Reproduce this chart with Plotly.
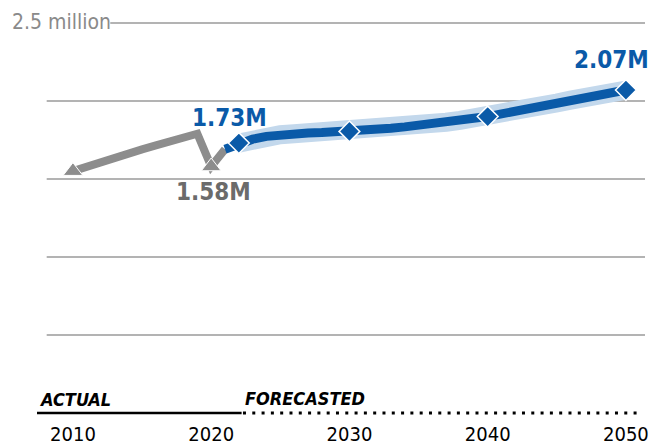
import plotly.graph_objects as go

# Population (millions), actual and forecast
actual_years = list(range(2010, 2022))
actual_vals = [1.55, 1.58, 1.61, 1.64, 1.665, 1.69, 1.715, 1.74, 1.765, 1.79, 1.58, 1.69]

fc_years = list(range(2021, 2051))
fc_vals = [1.69, 1.73, 1.755, 1.773, 1.784, 1.79, 1.795, 1.798, 1.801, 1.805,
           1.81, 1.817, 1.825, 1.834, 1.843, 1.853, 1.864, 1.876, 1.888, 1.90,
           1.917, 1.934, 1.951, 1.969, 1.987, 2.005, 2.022, 2.04, 2.056, 2.07]

actual_marker_years = [2010, 2020]
actual_marker_vals = [1.55, 1.58]
fc_marker_years = [2022, 2030, 2040, 2050]
fc_marker_vals = [1.73, 1.805, 1.90, 2.07]

grid_vals = [0.5, 1.0, 1.5, 2.0]
top_val = 2.5
tick_years = [2010, 2020, 2030, 2040, 2050]

FONT = "Liberation Sans Narrow, DejaVu Sans Condensed, Arial Narrow, sans-serif"
BLUE = "#0a5aa8"
HALO = "#c3d8ec"
GRAY = "#8d8d8d"

fig = go.Figure()

# horizontal guide lines
for v in grid_vals:
    fig.add_shape(type="line", x0=2008.1, x1=2051.4, y0=v, y1=v,
                  line=dict(color="#9a9a9a", width=1.5), layer="below")
fig.add_shape(type="line", x0=2012.7, x1=2051.4, y0=top_val, y1=top_val,
              line=dict(color="#9a9a9a", width=1.5), layer="below")

# baseline: solid for actual, dotted for forecast
fig.add_trace(go.Scatter(x=[2007.4, 2022.2], y=[0, 0], mode="lines",
                         line=dict(color="black", width=2.5), hoverinfo="skip"))
fig.add_trace(go.Scatter(x=[2022.3, 2051.0], y=[0, 0], mode="lines",
                         line=dict(color="black", width=3, dash="3px,6.3px"),
                         hoverinfo="skip"))

# actual series
fig.add_trace(go.Scatter(x=actual_years, y=actual_vals, mode="lines",
                         line=dict(color=GRAY, width=8), hoverinfo="skip"))
fig.add_trace(go.Scatter(x=actual_marker_years, y=actual_marker_vals, mode="markers",
                         marker=dict(symbol="triangle-up", size=17, color=GRAY,
                                     line=dict(color="white", width=1)),
                         hoverinfo="skip"))

# forecast series with halo
fig.add_trace(go.Scatter(x=fc_years[1:], y=fc_vals[1:], mode="lines",
                         line=dict(color=HALO, width=19), hoverinfo="skip"))
fig.add_trace(go.Scatter(x=fc_years, y=fc_vals, mode="lines",
                         line=dict(color=BLUE, width=9), hoverinfo="skip"))
fig.add_trace(go.Scatter(x=fc_marker_years, y=fc_marker_vals, mode="markers",
                         marker=dict(symbol="diamond", size=16, color=BLUE,
                                     line=dict(color="white", width=1.5)),
                         hoverinfo="skip"))

# value labels
fig.add_annotation(x=2022, y=fc_marker_vals[0], text="<b>1.73M</b>", showarrow=False,
                   xshift=-9, yshift=25, font=dict(family=FONT, size=24, color=BLUE))
fig.add_annotation(x=2020, y=actual_marker_vals[1], text="<b>1.58M</b>", showarrow=False,
                   xshift=2, yshift=-26, font=dict(family=FONT, size=24, color="#6b6b6b"))
fig.add_annotation(x=2050, y=fc_marker_vals[3], text="<b>2.07M</b>", showarrow=False,
                   xshift=-14, yshift=30, font=dict(family=FONT, size=24, color=BLUE))

fig.add_annotation(x=-0.0445, xref="paper", y=top_val, text="2.5 million", showarrow=False,
                   xanchor="left", yshift=1, font=dict(family=FONT, size=21, color="#8a8a8a"))

fig.add_annotation(x=2007.4, y=0, text="<b><i>ACTUAL</i></b>", showarrow=False,
                   xanchor="left", yanchor="bottom", yshift=1,
                   font=dict(family=FONT, size=18, color="black"))
fig.add_annotation(x=2022.3, y=0, text="<b><i>FORECASTED</i></b>", showarrow=False,
                   xanchor="left", yanchor="bottom", yshift=2,
                   font=dict(family=FONT, size=18, color="black"))

fig.update_layout(
    width=664, height=447,
    margin=dict(l=37, r=19, t=10, b=27),
    plot_bgcolor="white", paper_bgcolor="white",
    showlegend=False,
    xaxis=dict(range=[2007.4, 2051.38], tickvals=tick_years,
               ticktext=[str(y) for y in tick_years], showgrid=False,
               zeroline=False, showline=False, ticks="", automargin=False,
               tickfont=dict(family=FONT, size=20, color="black"), fixedrange=True),
    yaxis=dict(range=[-0.0449, 2.583], showgrid=False, zeroline=False, automargin=False,
               showticklabels=False, showline=False, fixedrange=True),
)

fig.write_html("out.html")
